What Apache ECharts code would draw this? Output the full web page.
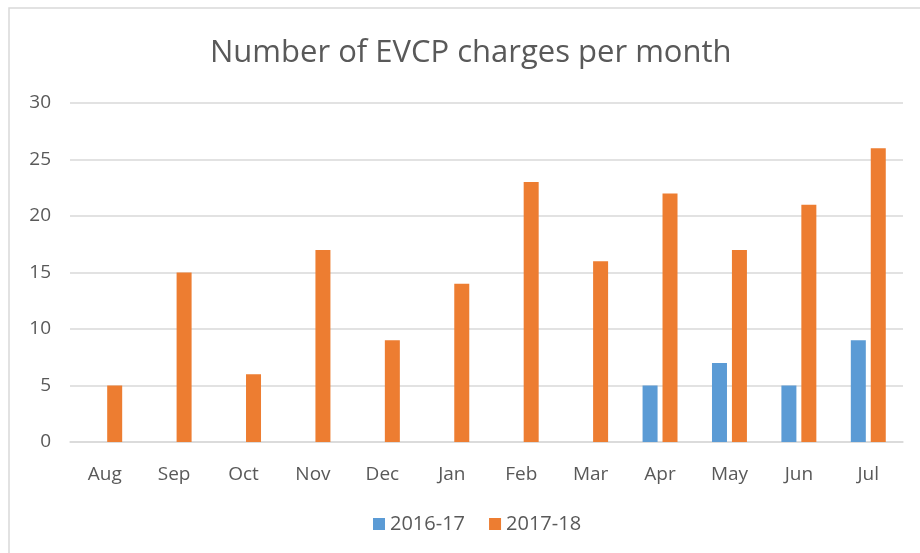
<!DOCTYPE html>
<html><head><meta charset="utf-8">
<script src="https://cdn.jsdelivr.net/npm/echarts@6/dist/echarts.min.js"></script>
<style>html,body{margin:0;padding:0;background:#fff}#c{width:920px;height:553px}</style>
</head><body><div id="c"></div>
<script>
const categories = ['Aug','Sep','Oct','Nov','Dec','Jan','Feb','Mar','Apr','May','Jun','Jul'];
const series1617 = [null,null,null,null,null,null,null,null,5,7,5,9];
const series1718 = [5,15,6,17,9,14,23,16,22,17,21,26];
const yTicks = {min:0, max:30, interval:5};
const FONT = "'Open Sans', 'Noto Sans', sans-serif";
const chart = echarts.init(document.getElementById('c'));
chart.setOption({
  animation:false,
  backgroundColor:'#fff',
  graphic:[{type:'rect', shape:{x:9,y:8,width:930,height:570}, style:{fill:'none', stroke:'#d9d9d9', lineWidth:1.5}, silent:true}],
  title:{text:'Number of EVCP charges per month', left:205, top:33,
    textStyle:{fontFamily:FONT, fontSize:31, fontWeight:'normal', color:'#595959'}},
  legend:{bottom:14, left:368, itemWidth:12, itemHeight:12, itemGap:24,
    icon:'rect', textStyle:{fontFamily:FONT, fontSize:20, color:'#595959'},
    data:['2016-17','2017-18']},
  grid:{left:70, right:17, top:103, bottom:111},
  xAxis:{type:'category', data:categories,
    axisLine:{lineStyle:{color:'#d9d9d9', width:1.5}}, axisTick:{show:false},
    axisLabel:{fontFamily:FONT, fontSize:19, color:'#595959', margin:23}},
  yAxis:{type:'value', min:yTicks.min, max:yTicks.max, interval:yTicks.interval,
    axisLine:{show:false}, axisTick:{show:false},
    splitLine:{lineStyle:{color:'#d9d9d9', width:1.5}},
    axisLabel:{fontFamily:FONT, fontSize:19, color:'#595959', margin:19}},
  series:[
    {name:'2016-17', type:'bar', data:series1617, barWidth:15, barGap:'33%', itemStyle:{color:'#5B9BD5'}},
    {name:'2017-18', type:'bar', data:series1718, barWidth:15, itemStyle:{color:'#ED7D31'}}
  ]
});
</script></body></html>
